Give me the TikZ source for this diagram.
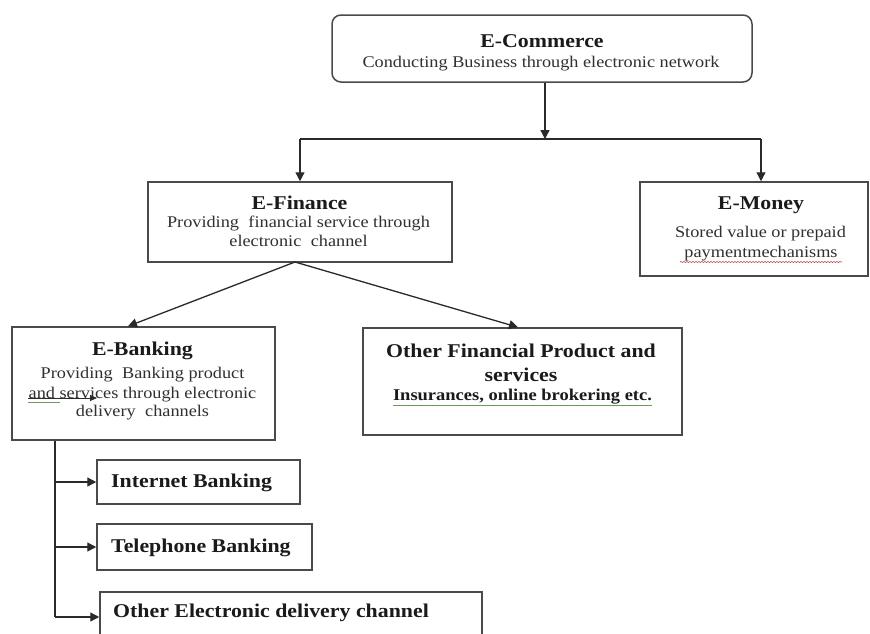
\documentclass[tikz,border=0pt]{standalone}
\usepackage{fontspec}
\setmainfont{Liberation Serif}
\newfontfamily\stretchserif[FakeStretch=1.12]{Liberation Serif}
\usetikzlibrary{arrows.meta,decorations.pathmorphing}
\definecolor{linec}{HTML}{4A4A4A}
\definecolor{arrc}{HTML}{2A2A2A}
\definecolor{txtc}{HTML}{1A1A1A}
\definecolor{bodyc}{HTML}{303030}
\definecolor{spellred}{HTML}{C05050}
\definecolor{spellgreen}{HTML}{6A9A5A}
\newcommand\ttlfnt{\stretchserif\bfseries\fontsize{19.5}{22}\selectfont}
\newcommand\bdyfnt{\stretchserif\fontsize{16.3}{20}\selectfont}
\newcommand\subfnt{\stretchserif\bfseries\fontsize{16.5}{20}\selectfont}
\tikzset{
  box/.style={draw=linec, line width=1.5pt, inner sep=0pt, fill=white},
  ttl/.style={font=\ttlfnt, text=txtc, anchor=base, inner sep=0pt},
  ttlw/.style={font=\ttlfnt, text=txtc, anchor=base west, inner sep=0pt},
  bdy/.style={font=\bdyfnt, text=bodyc, anchor=base, inner sep=0pt},
  sub/.style={font=\subfnt, text=txtc, anchor=base, inner sep=0pt},
  conn/.style={draw=arrc, line width=1.3pt},
  arr/.style={conn, -{Triangle[length=9pt,width=9pt]}},
}
\begin{document}
\begin{tikzpicture}[x=1pt,y=-1pt]
\useasboundingbox (0,0) rectangle (870,633);
\fill[white] (0,0) rectangle (870,633);

% boxes
\node[box, rounded corners=9pt, minimum width=420pt, minimum height=67pt] (ecom) at (542,48.5) {};
\node[box, minimum width=304pt, minimum height=80pt] (efin) at (300,222) {};
\node[box, minimum width=228pt, minimum height=94pt] (emoney) at (754,229) {};
\node[box, minimum width=263pt, minimum height=113pt] (ebank) at (143.5,383.5) {};
\node[box, minimum width=319pt, minimum height=107pt] (other) at (522.5,381.5) {};
\node[box, minimum width=203pt, minimum height=44pt] (inet) at (198.5,482) {};
\node[box, minimum width=215pt, minimum height=46pt] (tel) at (204.5,547) {};
\node[box, minimum width=382pt, minimum height=60pt] (oed) at (291,622) {};

% texts
\node[ttl] (ecomT) at (542,47) {E-Commerce};
\node[bdy] (ecomB) at (541,67) {Conducting Business through electronic network};
\node[ttl] (efinT) at (299.5,209) {E-Finance};
\node[bdy] (efinB1) at (298.5,227) {Providing\hspace{0.3em} financial service through};
\node[bdy] (efinB2) at (298.5,246) {electronic\hspace{0.3em} channel};
\node[ttl] (emoneyT) at (761,209) {E-Money};
\node[bdy] (emoneyB1) at (760.5,237) {Stored value or prepaid};
\node[bdy] (emoneyB2) at (761,257) {paymentmechanisms};
\node[ttl] (ebankT) at (142.5,355) {E-Banking};
\node[bdy] (ebankB1) at (142.5,378) {Providing\hspace{0.3em} Banking product};
\node[bdy] (ebankB2) at (142.5,398) {and services through electronic};
\node[bdy] (ebankB3) at (142.5,416) {delivery\hspace{0.3em} channels};
\node[ttl] (otherT1) at (521,357) {Other Financial Product and};
\node[ttl] (otherT2) at (521,381) {services};
\node[sub] (otherB) at (522.5,400) {Insurances, online brokering etc.};
\node[ttlw] (inetT) at (111,487) {Internet Banking};
\node[ttlw] (telT) at (111,552) {Telephone Banking};
\node[ttlw] (oedT) at (113,617) {Other Electronic delivery channel};

% spelling marks
\draw[spellred, line width=0.6pt, decorate, decoration={snake, amplitude=0.6pt, segment length=3pt}]
  (680,262) -- (842,262);
\draw[spellgreen, line width=0.8pt] (28,402) -- (60,402);
\draw[spellgreen, line width=0.8pt] (393,405) -- (652,405);

% connectors
\coordinate (j1) at (545,139);
\coordinate (hl) at (300,139);
\coordinate (hr) at (761,139);
\draw[arr] (ecom.south -| j1) -- (j1);
\draw[conn] (hl) -- (hr);
\draw[arr] (hl) -- (efin.north);
\draw[arr] (hr) -- (hr |- emoney.north);

\coordinate (apex) at (295,262);
\draw[arr] (apex) -- ([xshift=-15.5pt]ebank.north);
\draw[arr] (apex) -- ([xshift=-4.5pt]other.north);

\coordinate (b1) at (55,482);
\coordinate (b2) at (55,547);
\coordinate (b3) at (55,617);
\draw[conn] (ebank.south -| b3) -- (b3);
\draw[arr] (b1) -- (inet.west);
\draw[arr] (b2) -- (tel.west);
\draw[arr] (b3) -- (b3 -| oed.west);

% stray arrow over E-Banking text
\coordinate (sa) at (28,398);
\coordinate (sb) at (97,398);
\draw[draw=arrc, line width=1pt, -{Triangle[length=7pt,width=6pt]}] (sa) -- (sb);
\end{tikzpicture}
\end{document}
